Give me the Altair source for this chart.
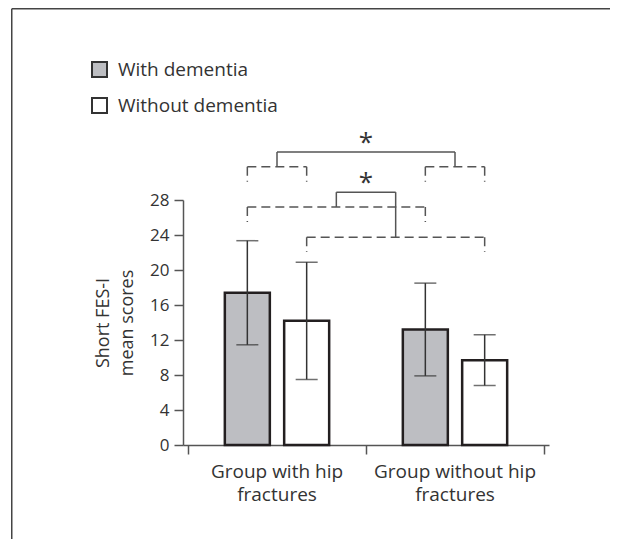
import altair as alt
import pandas as pd

# ---------------- data ----------------
groups = ["Group with hip fractures", "Group without hip fractures"]
group_line1 = ["Group with hip", "Group without hip"]
group_line2 = ["fractures", "fractures"]
dementia = ["With dementia", "Without dementia"]
means = [17.4, 14.2, 13.2, 9.7]      # order: g1-with, g1-without, g2-with, g2-without
sds = [5.95, 6.7, 5.3, 2.9]
y_ticks = [0, 4, 8, 12, 16, 20, 24, 28]

# significance brackets (indices of bars), levels in score units
dashed_pairs = [(0, 1), (2, 3), (0, 2), (1, 3)]
dashed_top = [31.8, 31.8, 27.2, 23.75]
dashed_drop = 1.7
solid_pairs = [(0, 1), (2, 3)]        # indices into dashed brackets
solid_top = [33.5, 28.9]
star_text = ["*", "*"]

# ---------------- layout constants ----------------
FONT = "Open Sans"
TXT = "#333333"
AX = "#555555"
W, H = 366, 245
SUB = 1 / 6          # half-distance between paired bar centres (group width = 1)
LINE_H = 23

rows = []
for g, grp in enumerate(groups):
    for s, dem in enumerate(dementia):
        i = g * 2 + s
        rows.append(dict(group=grp, dementia=dem, mean=means[i], sd=sds[i],
                         lo=means[i] - sds[i], hi=means[i] + sds[i],
                         xc=g + 0.5 + (s - 0.5) * 2 * SUB))
bars_df = pd.DataFrame(rows)
xc = list(bars_df["xc"])

dashed_seg, solid_seg, stars = [], [], []
mids = []
for (a, b), top in zip(dashed_pairs, dashed_top):
    dashed_seg.append(dict(x=xc[a], x2=xc[b], y=top, y2=top))
    dashed_seg.append(dict(x=xc[a], x2=xc[a], y=top, y2=top - dashed_drop))
    dashed_seg.append(dict(x=xc[b], x2=xc[b], y=top, y2=top - dashed_drop))
    mids.append((xc[a] + xc[b]) / 2)
for (k1, k2), top, st in zip(solid_pairs, solid_top, star_text):
    m1, m2 = mids[k1], mids[k2]
    solid_seg.append(dict(x=m1, x2=m2, y=top, y2=top))
    solid_seg.append(dict(x=m1, x2=m1, y=top, y2=dashed_top[k1]))
    solid_seg.append(dict(x=m2, x2=m2, y=top, y2=dashed_top[k2]))
    stars.append(dict(x=(m1 + m2) / 2, y=top, t=st))
dashed_df = pd.DataFrame(dashed_seg)
solid_df = pd.DataFrame(solid_seg)
star_df = pd.DataFrame(stars)
label_df = pd.DataFrame(dict(x=[g + 0.5 for g in range(len(groups))],
                             l1=group_line1, l2=group_line2))

x_scale = alt.Scale(domain=[0, 2], nice=False, zero=False)
y_scale = alt.Scale(domain=[0, 28], nice=False)

x_axis = alt.Axis(values=[0, 1, 2], labels=False, title=None, tickSize=9, grid=False,
                  domainColor=AX, domainWidth=1.5, tickColor=AX, tickWidth=1.5)
y_axis = alt.Axis(values=y_ticks, title=["Short FES-I", "mean scores"], grid=False,
                  labelOverlap=False,
                  tickSize=9, labelPadding=5, labelFontSize=17, labelFont=FONT,
                  labelColor=TXT, domainColor=AX, domainWidth=1.5, tickColor=AX,
                  tickWidth=1.5, titleFont=FONT, titleFontSize=18, titleFontWeight="normal",
                  titleColor=TXT, titleLineHeight=24, titlePadding=13)


def X(f):
    return alt.X(f, scale=x_scale, axis=x_axis, title=None)


def Y(f):
    return alt.Y(f, scale=y_scale, axis=y_axis, title=["Short FES-I", "mean scores"])


base = alt.Chart(bars_df)
bars = base.mark_bar(width=45, stroke="#231f20", strokeWidth=2.5).encode(
    x=X("xc:Q"),
    y=Y("mean:Q"),
    fill=alt.Fill("dementia:N", scale=alt.Scale(domain=dementia, range=["#bdbec2", "#ffffff"]),
                  legend=alt.Legend(orient="none", legendX=-93, legendY=-140, title=None,
                                    symbolType="square", symbolSize=225,
                                    symbolStrokeColor="#333333", symbolStrokeWidth=2,
                                    labelFont=FONT, labelFontSize=19, labelColor=TXT,
                                    labelOffset=9, rowPadding=13, padding=0)),
)
err = base.mark_rule(color="#333333", strokeWidth=1.5).encode(
    x=X("xc:Q"), y=Y("lo:Q"), y2="hi:Q")
cap_lo = base.mark_tick(orient="horizontal", size=22, thickness=1.5, color="#333333").encode(
    x=X("xc:Q"), y=Y("lo:Q"))
cap_hi = base.mark_tick(orient="horizontal", size=22, thickness=1.5, color="#333333").encode(
    x=X("xc:Q"), y=Y("hi:Q"))

dashed = alt.Chart(dashed_df).mark_rule(color="#555555", strokeWidth=1.5, strokeDash=[9, 5],
                                        clip=False).encode(
    x=X("x:Q"), x2="x2:Q", y=Y("y:Q"), y2="y2:Q")
solid = alt.Chart(solid_df).mark_rule(color="#555555", strokeWidth=1.5, clip=False).encode(
    x=X("x:Q"), x2="x2:Q", y=Y("y:Q"), y2="y2:Q")
star = alt.Chart(star_df).mark_text(font=FONT, fontSize=26, color=TXT, baseline="alphabetic",
                                    dy=-1, clip=False).encode(x=X("x:Q"), y=Y("y:Q"), text="t:N")

lab = alt.Chart(label_df)
xlab1 = lab.mark_text(font=FONT, fontSize=19, color=TXT, baseline="middle",
                      align="center").encode(x=X("x:Q"), y=alt.value(H + 27), text="l1:N")
xlab2 = lab.mark_text(font=FONT, fontSize=19, color=TXT, baseline="middle",
                      align="center").encode(x=X("x:Q"), y=alt.value(H + 27 + LINE_H), text="l2:N")

frame_df = pd.DataFrame({"k": [0]})
frame_top = alt.Chart(frame_df).mark_rule(color="#444444", strokeWidth=1.5).encode(
    x=alt.value(-171.25), x2=alt.value(440), y=alt.value(-191.2), y2=alt.value(-191.2))
frame_left = alt.Chart(frame_df).mark_rule(color="#444444", strokeWidth=1.5).encode(
    x=alt.value(-171.25), x2=alt.value(-171.25), y=alt.value(-191.2), y2=alt.value(340))

chart = alt.layer(bars, err, cap_lo, cap_hi, dashed, solid, star, xlab1, xlab2,
                  frame_top, frame_left).properties(
    width=W, height=H,
    autosize=alt.AutoSizeParams(type="none"),
    padding={"left": 175, "top": 192, "right": 61, "bottom": 94},
    background="white",
).configure_view(stroke=None)

chart.save("out.html", embed_options={"renderer": "svg", "actions": False})
